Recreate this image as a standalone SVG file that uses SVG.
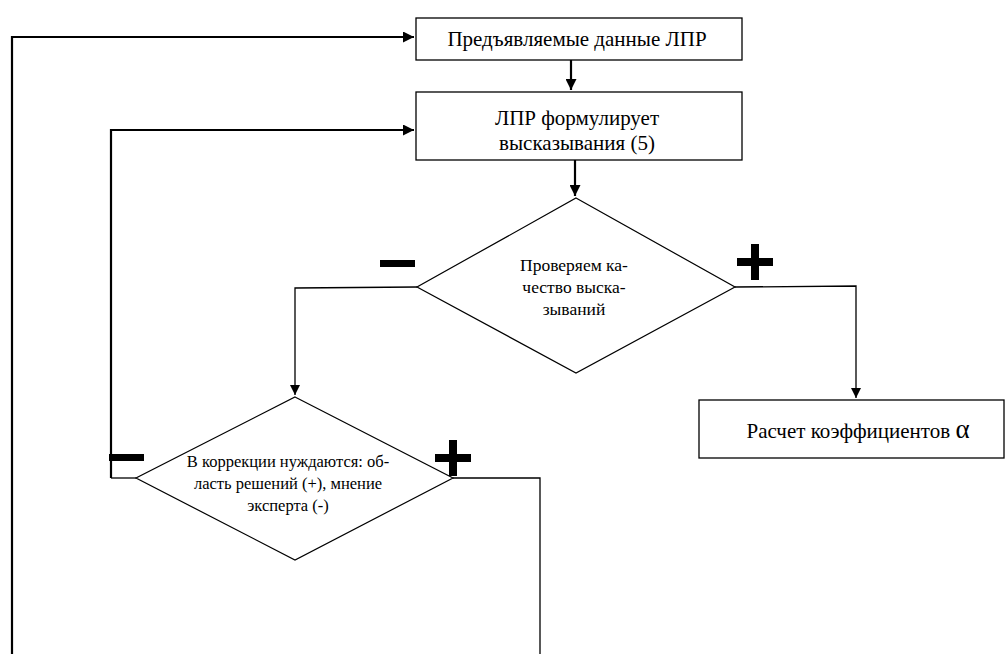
<svg xmlns="http://www.w3.org/2000/svg" width="1005" height="654" viewBox="0 0 1005 654">
<defs>
<marker id="ah" viewBox="0 0 10 10" refX="10" refY="5" markerWidth="5" markerHeight="5" orient="auto" markerUnits="strokeWidth"><path d="M0,0 L10,5 L0,10 z" fill="#000"/></marker>
<marker id="ah2" viewBox="0 0 10 10" refX="10" refY="5" markerWidth="8" markerHeight="8" orient="auto" markerUnits="strokeWidth"><path d="M0,0 L10,5 L0,10 z" fill="#000"/></marker>
<style>
.box{fill:#fff;stroke:#000;stroke-width:1.3}
.dia{fill:#fff;stroke:#000;stroke-width:1.2}
.thick{fill:none;stroke:#000;stroke-width:2.2}
.thin{fill:none;stroke:#000;stroke-width:1.3}
.sign{fill:#000}
</style>
</defs>
<g id="connectors">
<path class="thick" d="M12,654 L12,37 L414,37" marker-end="url(#ah)"/>
<path class="thick" d="M571,60 L571,90" marker-end="url(#ah)"/>
<path class="thick" d="M111,478 L111,130 L414,130" marker-end="url(#ah)"/>
<path class="thick" d="M575,160 L575,196" marker-end="url(#ah)"/>
<path class="thin" d="M417,287 L295,288 L295,395" marker-end="url(#ah2)"/>
<path class="thin" d="M735,287 L856,286 L856,398" marker-end="url(#ah2)"/>
<path class="thin" d="M136,478 L111,478"/>
<path class="thin" d="M453,478 L540,478 L540,654"/>
</g>
<g font-family="Liberation Serif, serif" text-anchor="middle" fill="#000">
<g id="n1"><rect class="box" x="416" y="18" width="326" height="42"/><text x="577" y="46" font-size="21">Предъявляемые данные ЛПР</text></g>
<g id="n2"><rect class="box" x="416" y="92" width="326" height="68"/><text x="577" y="125" font-size="21">ЛПР формулирует</text><text x="577" y="150" font-size="21">высказывания (5)</text></g>
<g id="d1"><polygon class="dia" points="576,198 735,287 576,373 417,287"/>
<text x="574" y="271" font-size="17.5">Проверяем ка-</text><text x="574" y="293" font-size="17.5">чество выска-</text><text x="574" y="315" font-size="17.5">зываний</text></g>
<g id="n3"><rect class="box" x="699" y="400" width="305" height="58"/><text x="858" y="438" font-size="21">Расчет коэффициентов <tspan font-size="27">α</tspan></text></g>
<g id="d2"><polygon class="dia" points="295,397 453,478 295,560 136,478"/>
<text x="288" y="467" font-size="16.5">В коррекции нуждаются: об-</text><text x="288" y="489" font-size="16.5">ласть решений (+), мнение</text><text x="288" y="511" font-size="16.5">эксперта (-)</text></g>
</g>
<g id="signs">
<rect class="sign" x="380" y="260" width="35" height="7"/>
<rect class="sign" x="737" y="258" width="36" height="8"/><rect class="sign" x="751" y="244" width="8" height="36"/>
<rect class="sign" x="109" y="454" width="35" height="7"/>
<rect class="sign" x="435" y="454" width="36" height="8"/><rect class="sign" x="449" y="440" width="8" height="36"/>
</g>
</svg>
